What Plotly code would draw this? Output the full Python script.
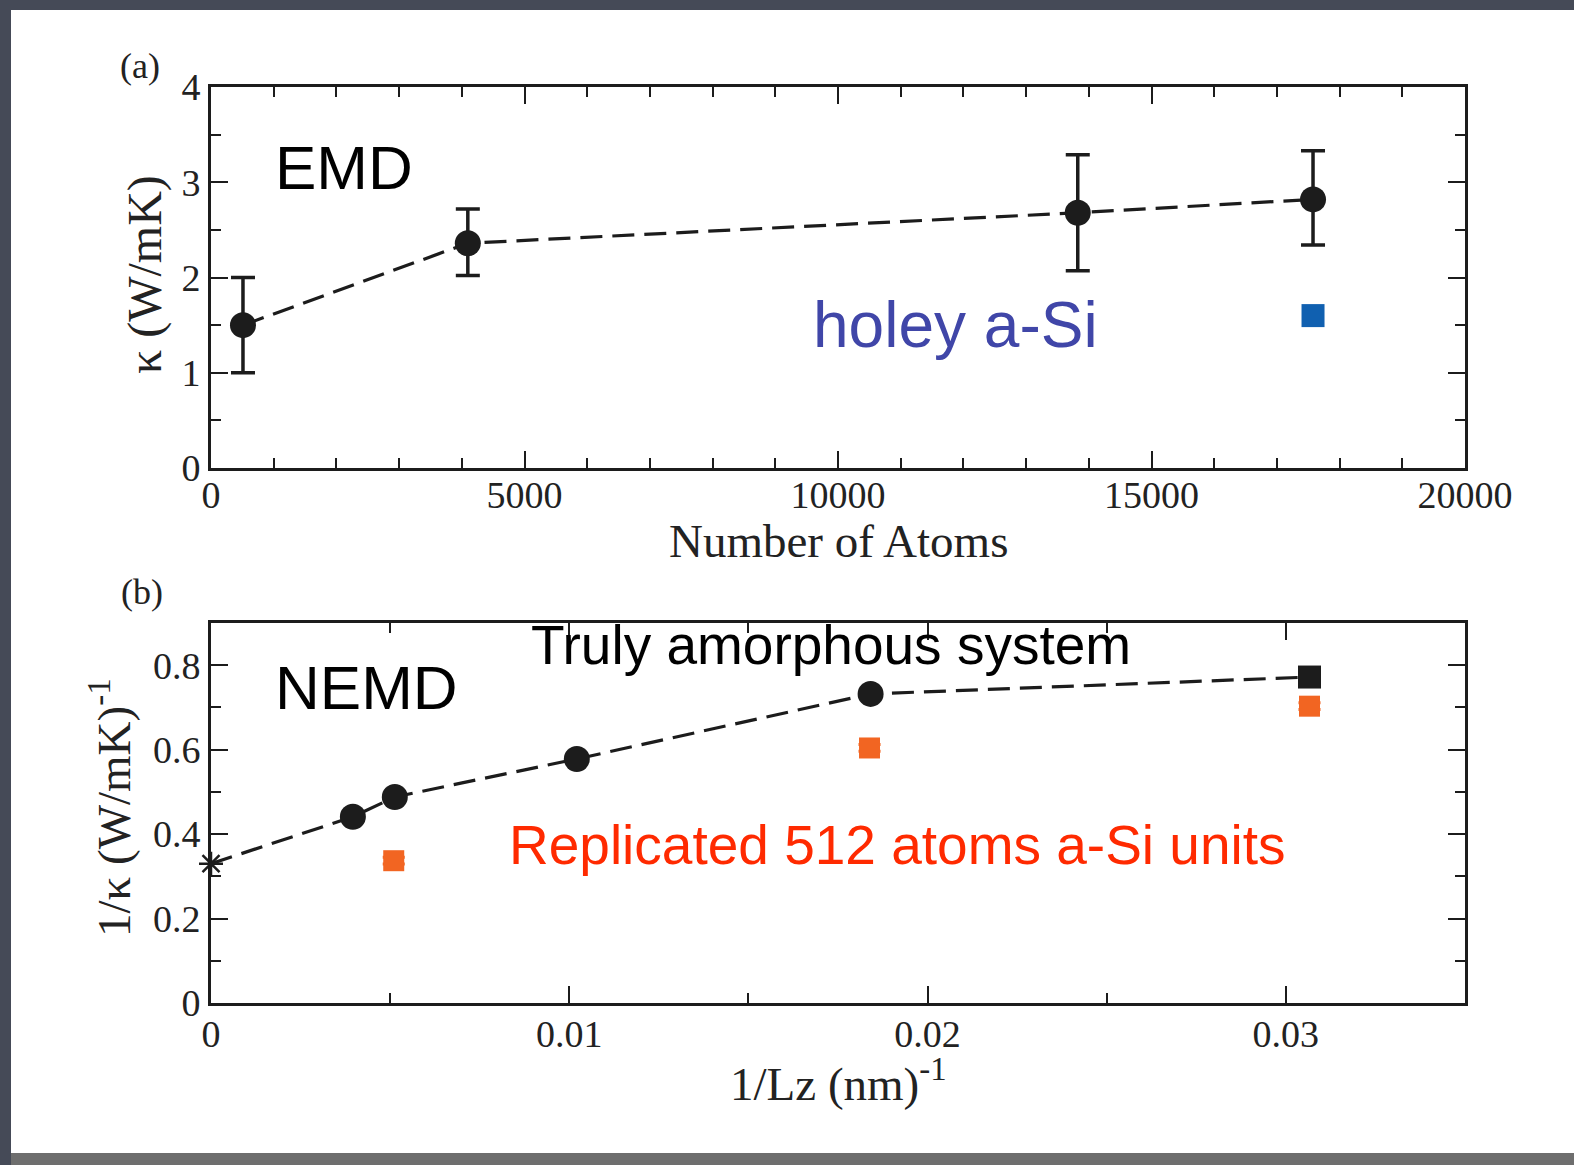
import plotly.graph_objects as go

# ---------------- data ----------------
# (a) EMD
atoms = [510, 4096, 13824, 17576]
kappa = [1.50, 2.36, 2.68, 2.82]
kappa_err_plus = [0.50, 0.36, 0.61, 0.51]
kappa_err_minus = [0.50, 0.34, 0.61, 0.48]
holey_atoms = [17576]
holey_kappa = [1.60]
x_a_ticks = [0, 5000, 10000, 15000, 20000]
y_a_ticks = [0, 1, 2, 3, 4]

# (b) NEMD
inv_lz_extrap = [0.0]
inv_k_extrap = [0.330]
inv_lz = [0.00396, 0.00513, 0.01021, 0.01841]
inv_k = [0.441, 0.488, 0.578, 0.732]
inv_lz_sq = [0.03066]
inv_k_sq = [0.772]
inv_lz_rep = [0.00510, 0.01838, 0.03066]
inv_k_rep = [0.337, 0.604, 0.703]
x_b_ticks = [0, 0.01, 0.02, 0.03]
x_b_labels = ["0", "0.01", "0.02", "0.03"]
y_b_ticks = [0, 0.2, 0.4, 0.6, 0.8]
y_b_labels = ["0", "0.2", "0.4", "0.6", "0.8"]

W, H = 1574, 1165
def px(x): return x / W
def py(y): return 1 - y / H

BLACK = "#1c1c1c"
ORANGE = "#f26522"
BLUE = "#1060b0"
SERIF = "Liberation Serif"
SANS = "Liberation Sans"
DASH = "22px,10px"

fig = go.Figure()

# (a)
fig.add_trace(go.Scatter(
    x=atoms, y=kappa, mode="lines+markers", xaxis="x", yaxis="y",
    line=dict(color=BLACK, width=3.2, dash=DASH),
    marker=dict(symbol="circle", size=26, color=BLACK),
    error_y=dict(type="data", symmetric=False, array=kappa_err_plus,
                 arrayminus=kappa_err_minus, color=BLACK, thickness=3.5, width=12),
    showlegend=False))
fig.add_trace(go.Scatter(
    x=holey_atoms, y=holey_kappa, mode="markers", xaxis="x", yaxis="y",
    marker=dict(symbol="square", size=23, color=BLUE), showlegend=False))

# (b)
line_x = inv_lz_extrap + inv_lz + inv_lz_sq
line_y = inv_k_extrap + inv_k + inv_k_sq
fig.add_trace(go.Scatter(
    x=line_x, y=line_y, mode="lines", xaxis="x2", yaxis="y2",
    line=dict(color=BLACK, width=3.2, dash=DASH), showlegend=False))
fig.add_trace(go.Scatter(
    x=inv_lz_extrap, y=inv_k_extrap, mode="markers", xaxis="x2", yaxis="y2",
    cliponaxis=False,
    marker=dict(symbol="asterisk-open", size=20, color=BLACK,
                line=dict(color=BLACK, width=2.5)),
    showlegend=False))
fig.add_trace(go.Scatter(
    x=inv_lz, y=inv_k, mode="markers", xaxis="x2", yaxis="y2",
    marker=dict(symbol="circle", size=26, color=BLACK), showlegend=False))
fig.add_trace(go.Scatter(
    x=inv_lz_sq, y=inv_k_sq, mode="markers", xaxis="x2", yaxis="y2",
    marker=dict(symbol="square", size=23, color=BLACK),
    error_y=dict(type="constant", value=0.012, color=BLACK, thickness=3, width=11),
    showlegend=False))
fig.add_trace(go.Scatter(
    x=inv_lz_rep, y=inv_k_rep, mode="markers", xaxis="x2", yaxis="y2",
    marker=dict(symbol="square", size=21, color=ORANGE),
    error_y=dict(type="constant", value=0.008, color=ORANGE, thickness=3, width=11),
    showlegend=False))

axis_common = dict(
    showgrid=False, zeroline=False, showline=True, linecolor=BLACK, linewidth=3,
    mirror="allticks", ticks="inside", ticklen=17, tickwidth=2, tickcolor=BLACK,
    tickfont=dict(family=SERIF, size=38, color="#222222"), automargin=False,
)
minor_common = dict(ticks="inside", ticklen=10, tickwidth=2, tickcolor=BLACK)

fig.update_layout(
    width=W, height=H, margin=dict(l=0, r=0, t=0, b=0, pad=0, autoexpand=False),
    paper_bgcolor="#454a57", plot_bgcolor="white",
    xaxis=dict(domain=[px(211), px(1465)], range=[0, 20000], ticklabelstandoff=-9,
               tickvals=x_a_ticks, ticktext=[str(v) for v in x_a_ticks], anchor="y",
               minor=dict(dtick=1000, **minor_common), **axis_common),
    yaxis=dict(domain=[py(468), py(87)], range=[0, 4], ticklabelstandoff=0,
               tickvals=y_a_ticks, ticktext=[str(v) for v in y_a_ticks], anchor="x",
               minor=dict(dtick=0.5, **minor_common), **axis_common),
    xaxis2=dict(domain=[px(211), px(1465)], range=[0, 0.035], anchor="y2",
                ticklabelstandoff=-5,
                tickvals=x_b_ticks, ticktext=x_b_labels,
                minor=dict(dtick=0.005, **minor_common), **axis_common),
    yaxis2=dict(domain=[py(1003), py(623)], range=[0, 0.9], anchor="x2",
                ticklabelstandoff=0,
                tickvals=y_b_ticks, ticktext=y_b_labels,
                minor=dict(dtick=0.1, **minor_common), **axis_common),
)

# slide background
fig.add_shape(type="rect", xref="paper", yref="paper", layer="below",
              x0=px(11), x1=1.0, y0=py(1153), y1=py(10),
              fillcolor="white", line=dict(width=0))
fig.add_shape(type="rect", xref="paper", yref="paper", layer="below",
              x0=px(11), x1=1.0, y0=py(1165), y1=py(1153),
              fillcolor="#6e6e6e", line=dict(width=0))

def ann(text, x, y, size, color=BLACK, family=SERIF, angle=0, xanchor="center"):
    fig.add_annotation(text=text, x=px(x), y=py(y), xref="paper", yref="paper",
                       showarrow=False, textangle=angle, xanchor=xanchor, yanchor="middle",
                       font=dict(family=family, size=size, color=color))

ann("(a)", 140, 66, 36, color="#222222")
ann("(b)", 142, 592, 36, color="#222222")
ann("Number of Atoms", 838, 541, 47, color="#222222")
ann("κ (W/mK)", 145, 275, 48, color="#222222", angle=-90)
ann("1/κ (W/mK)<sup>-1</sup>", 110, 808, 47, color="#222222", angle=-90)
ann("1/Lz (nm)<sup>-1</sup>", 838, 1080, 47, color="#222222")

ann("EMD", 273, 168, 62, family=SANS, color="#000000", xanchor="left")
ann("holey a-Si", 955, 325, 64, family=SANS, color="#4046a8")
ann("NEMD", 273, 687, 62, family=SANS, color="#000000", xanchor="left")
ann("Truly amorphous system", 831, 645, 55, family=SANS, color="#000000")
ann("Replicated 512 atoms a-Si units", 897, 845, 55, family=SANS, color="#ff2a00")

fig.write_html("out.html")
